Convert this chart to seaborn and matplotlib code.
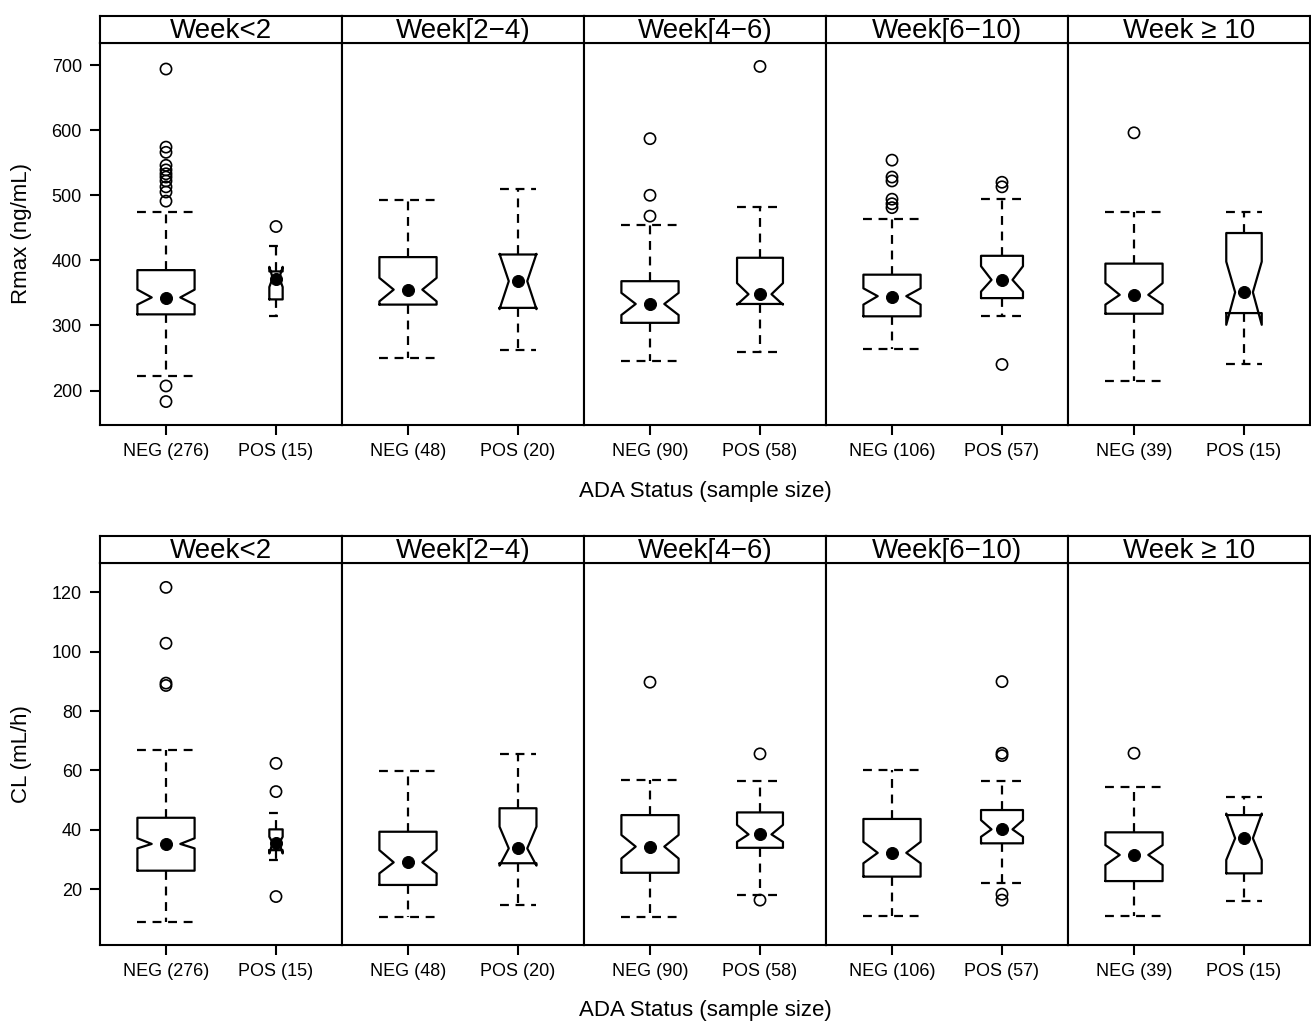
import numpy as np
import pandas as pd
import matplotlib
matplotlib.use("Agg")
import matplotlib.pyplot as plt
import seaborn as sns

# 数据（从原图读取的箱线图统计量），每周分组内顺序：NEG, POS
weeks = ["Week<2", "Week[2−4)", "Week[4−6)", "Week[6−10)", "Week ≥ 10"]
status = ["NEG", "POS"]
n_neg = [276, 48, 90, 106, 39]
n_pos = [15, 20, 58, 57, 15]

# Rmax (ng/mL)
rmax_lo = [223, 314, 250, 262, 246, 259, 264, 314, 215, 240]
rmax_q1 = [317, 340, 332, 327, 304, 333, 314, 342, 318, 319]
rmax_cilo = [332, 359, 337, 325, 316, 332, 332, 352, 332, 301]
rmax_med = [343, 373, 355, 368, 333, 348, 345, 370, 347, 351]
rmax_cihi = [355, 390, 373, 410, 350, 365, 357, 391, 365, 398]
rmax_q3 = [385, 383, 405, 409, 368, 404, 378, 407, 395, 442]
rmax_hi = [474, 422, 492, 510, 454, 482, 464, 494, 474, 475]
rmax_mean = [342, 372, 354, 369, 333, 348, 343, 370, 347, 351]
rmax_fliers = [
    [694, 574, 566, 546, 539, 533, 528, 522, 513, 505, 491, 207, 183],
    [452],
    [], [],
    [587, 500, 468], [698],
    [554, 528, 522, 494, 487, 481], [520, 513, 240],
    [596], [],
]

# CL (mL/h)
cl_lo = [9.1, 29.9, 10.8, 14.9, 10.8, 18.1, 11.0, 22.0, 11.0, 16.1]
cl_q1 = [26.3, 33.2, 21.5, 28.8, 25.6, 34.0, 24.3, 35.5, 22.8, 25.4]
cl_cilo = [33.8, 32.1, 25.4, 28.0, 30.4, 36.0, 28.8, 37.7, 28.2, 29.9]
cl_med = [35.3, 35.7, 29.1, 33.8, 34.4, 38.5, 32.3, 40.2, 31.6, 37.2]
cl_cihi = [37.2, 37.7, 33.2, 41.1, 38.3, 41.7, 36.0, 43.3, 34.9, 45.5]
cl_q3 = [44.1, 40.2, 39.4, 47.3, 45.0, 45.9, 43.7, 46.7, 39.2, 45.0]
cl_hi = [66.9, 45.6, 59.8, 65.5, 56.8, 56.3, 60.2, 56.5, 54.3, 51.2]
cl_mean = [35.3, 35.5, 29.1, 34.0, 34.4, 38.5, 32.3, 40.2, 31.6, 37.2]
cl_fliers = [
    [121.6, 102.8, 89.4, 88.6], [62.4, 52.9, 17.6],
    [], [],
    [89.7], [65.6, 16.4],
    [], [89.9, 65.8, 65.0, 18.4, 16.4],
    [65.8], [],
]

sns.set_theme(style="ticks")
plt.rcParams['font.family'] = ['Liberation Sans', 'DejaVu Sans']
plt.rcParams['axes.linewidth'] = 1.5
plt.rcParams['text.color'] = 'black'
plt.rcParams['axes.labelcolor'] = 'black'
plt.rcParams['xtick.color'] = 'black'
plt.rcParams['ytick.color'] = 'black'

W, H = 1311, 1022
fig = plt.figure(figsize=(W / 100, H / 100), dpi=100)

panel_left = 100
panel_w = 242
dash = (0, (4, 3))


def draw_row(strip_top, ax_top, ax_bottom, lo, q1, cilo, med, cihi, q3, hi, mean, fliers,
             ylim, yticks, ylabel, xlabel_y):
    axes = []
    for i, wk in enumerate(weeks):
        x0 = panel_left + i * panel_w
        ax = fig.add_axes([x0 / W, 1 - ax_bottom / H, panel_w / W, (ax_bottom - ax_top) / H])
        ns = [n_neg[i], n_pos[i]]
        widths = [0.52 * np.sqrt(n / max(ns)) for n in ns]
        stats = []
        for j in range(2):
            k = 2 * i + j
            stats.append(dict(whislo=lo[k], q1=q1[k], cilo=cilo[k], med=med[k], cihi=cihi[k],
                              q3=q3[k], whishi=hi[k], fliers=[], label=status[j]))
        ax.bxp(stats, positions=[0, 1], widths=widths, capwidths=widths,
               shownotches=True, showfliers=False, showmeans=False, manage_ticks=False,
               boxprops=dict(color='black', linewidth=1.6),
               whiskerprops=dict(color='black', linewidth=1.6, linestyle=dash),
               capprops=dict(color='black', linewidth=1.6, linestyle=dash),
               medianprops=dict(linewidth=0))

        # 离群点（空心圆）
        fl = pd.DataFrame([(j, v) for j in range(2) for v in fliers[2 * i + j]],
                          columns=['pos', 'value'])
        if len(fl):
            sns.scatterplot(data=fl, x='pos', y='value', ax=ax, marker='o', s=65,
                            facecolors='none', edgecolor='black', linewidth=1.2,
                            legend=False, zorder=4)
        # 均值（实心黑点）
        mn = pd.DataFrame({'pos': [0, 1], 'value': [mean[2 * i], mean[2 * i + 1]]})
        sns.scatterplot(data=mn, x='pos', y='value', ax=ax, color='black', s=75,
                        edgecolor='black', legend=False, zorder=5)

        ax.set_xlim(-0.6, 1.6)
        ax.set_ylim(*ylim)
        ax.set_xticks([0, 1])
        ax.set_xticklabels([f"{status[j]} ({ns[j]})" for j in range(2)], fontsize=13)
        ax.set_xlabel('')
        ax.set_ylabel('')
        ax.tick_params(axis='both', direction='out', length=7, width=1.5, colors='black',
                       labelsize=13, pad=6)
        for sp in ax.spines.values():
            sp.set_visible(True)
            sp.set_color('black')
            sp.set_linewidth(1.5)
        if i == 0:
            ax.set_yticks(yticks)
        else:
            ax.set_yticks([])

        # 顶部分面标签
        sax = fig.add_axes([x0 / W, 1 - ax_top / H, panel_w / W, (ax_top - strip_top) / H])
        sax.set_xticks([])
        sax.set_yticks([])
        for sp in sax.spines.values():
            sp.set_visible(True)
            sp.set_color('black')
            sp.set_linewidth(1.5)
        sax.text(0.5, 0.45, wk, ha='center', va='center', fontsize=20, color='black',
                 transform=sax.transAxes)
        axes.append(ax)

    fig.text(22 / W, 1 - (ax_top + ax_bottom) / 2 / H, ylabel, rotation=90,
             ha='center', va='center', fontsize=16, color='black')
    fig.text(705 / W, 1 - xlabel_y / H, 'ADA Status (sample size)', ha='center',
             va='center', fontsize=16, color='black')
    return axes


draw_row(16, 43, 425, rmax_lo, rmax_q1, rmax_cilo, rmax_med, rmax_cihi, rmax_q3, rmax_hi,
         rmax_mean, rmax_fliers, (147, 734), np.arange(200, 701, 100), 'Rmax (ng/mL)', 492)
draw_row(536, 563, 945, cl_lo, cl_q1, cl_cilo, cl_med, cl_cihi, cl_q3, cl_hi,
         cl_mean, cl_fliers, (1.3, 129.8), np.arange(20, 121, 20), 'CL (mL/h)', 1010)

fig.savefig('out.png', dpi=100, facecolor='white')
